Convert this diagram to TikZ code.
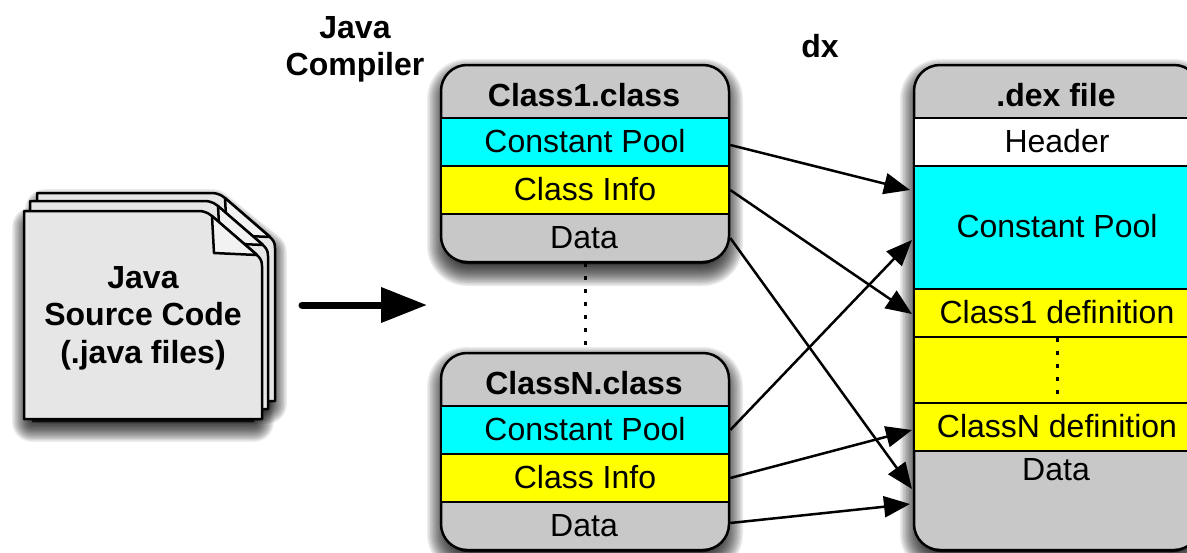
\documentclass[tikz,border=0pt]{standalone}
\usepackage{fontspec}
\setmainfont{Liberation Sans}
\usetikzlibrary{arrows.meta}
\definecolor{boxgray}{HTML}{C8C8C8}
\definecolor{pagegray}{HTML}{E6E6E6}
\definecolor{foldgray}{HTML}{F2F2F2}
\definecolor{poolcyan}{HTML}{00FFFF}
\definecolor{infoyellow}{HTML}{FFFF00}
\newcommand{\docpage}{(24,211) -- (198,211) .. controls (206,211) and (210,214) .. (214,218) -- (256,254) .. controls (260,258) and (262,260) .. (262,266) -- (262,419) -- (24,419) -- cycle}
\tikzset{
    rowbox/.style={draw=black, line width=2.5pt, inner sep=0pt, text depth=2pt, font=\fontsize{32}{38}\selectfont},
    plain/.style={inner sep=0pt, font=\fontsize{32}{38}\selectfont},
    heading/.style={inner sep=0pt, align=center, font=\fontsize{32}{37.5}\selectfont\bfseries},
    outerbox/.style={draw=black, fill=boxgray, line width=2.5pt, rounded corners=26pt, inner sep=0pt},
    link/.style={line width=2.5pt, -{Triangle[length=26pt,width=21pt]}},
    spots/.style={line width=3pt, dash pattern=on 4pt off 9pt},
    blur/.style={black, opacity=.08, fill=black, line join=round}
}
\begin{document}
\begin{tikzpicture}[x=1pt,y=-1pt]
    \clip (0,0) rectangle (1187,552);
    \fill [white] (0,0) rectangle (1187,552);
    % shadows
    \foreach \w in {44,41,...,1} {
        \foreach \y in {0,288}
            \draw [blur, line width=\w pt, rounded corners=18pt] (449,81+\y) rectangle (721,264+\y);
        \draw [blur, line width=\w pt, rounded corners=18pt] (922,81) rectangle (1192,552);
        \foreach \x/\y in {13/-18,0/0}
            \draw [blur, line width=.9*\w pt, shift={(\x,\y)}] (32,227) -- (200,227) -- (254,270) -- (254,422) -- (32,422) -- cycle;
    }
    % stacked source pages
    \foreach \x/\y in {13/-18,6/-10,0/0} {
        \draw [fill=pagegray, line width=2.5pt, line join=round, shift={(\x,\y)}] \docpage;
        \draw [fill=foldgray, line width=2.5pt, line join=round, shift={(\x,\y)}] (212,216) -- (214,253) -- (257,255) -- cycle;
    }
    \node [heading] (source) at (143,318) {Java\\Source Code\\(.java files)};
    \coordinate (compfrom) at (302,305);
    \coordinate (compto) at (427,305);
    \draw [line width=7pt, line cap=round, -{Triangle[length=46pt,width=34pt]}] (compfrom) -- (compto);
    \node [heading] (compiler) at (355,49.5) {Java\\Compiler};
    \node [heading] (dx) at (820,46) {dx};
    % class files
    \foreach \y/\n/\t in {0/a/Class1.class,288/n/ClassN.class} {
        \node [outerbox, minimum width=288pt, minimum height=197pt] (class\n) at (585,163.5+\y) {};
        \node [heading] (title\n) at (584,95+\y) {\t};
        \node [rowbox, fill=poolcyan, minimum width=288pt, minimum height=48pt] (pool\n) at (585,142+\y) {Constant Pool};
        \node [rowbox, fill=infoyellow, minimum width=288pt, minimum height=48pt] (info\n) at (585,190+\y) {Class Info};
        \node [plain] (data\n) at (584,238+\y) {Data};
    }
    \draw [spots] (classa) -- (classn);
    % dex file
    \node [outerbox, minimum width=286pt, minimum height=485pt] (dex) at (1057,307.5) {};
    \node [heading] (dextitle) at (1056,95) {.dex file};
    \node [rowbox, fill=white, minimum width=286pt, minimum height=48pt] (dexhead) at (1057,142) {Header};
    \node [rowbox, fill=poolcyan, text depth=3pt, minimum width=286pt, minimum height=123pt] (dexpool) at (1057,227.5) {Constant Pool};
    \node [rowbox, fill=infoyellow, text depth=3pt, minimum width=286pt, minimum height=48pt] (dexfirst) at (1057,313) {Class1 definition};
    \node [rowbox, fill=infoyellow, minimum width=286pt, minimum height=66pt] (dexgap) at (1057,370) {};
    \node [rowbox, fill=infoyellow, minimum width=286pt, minimum height=48pt] (dexlast) at (1057,427) {ClassN definition};
    \node [plain] (dexdata) at (1056,470) {Data};
    \draw [spots] (dexfirst) -- (dexlast);
    % ends of the arrows
    \coordinate (poolin) at (910,190);
    \coordinate (poolinb) at (912,240);
    \coordinate (firstin) at (912,314);
    \coordinate (lastin) at (912,430);
    \coordinate (datain) at (912,489);
    \coordinate (datainb) at (910,504);
    \draw [link] ([yshift=-3pt]poola.east) -- (poolin);
    \draw [link] (infoa.east) -- (firstin);
    \draw [link] (dataa.east -| classa.east) -- (datain);
    \draw [link] (pooln.east) -- (poolinb);
    \draw [link] (infon.east) -- (lastin);
    \draw [link] ([yshift=3pt]datan.east -| classn.east) -- (datainb);
\end{tikzpicture}
\end{document}
